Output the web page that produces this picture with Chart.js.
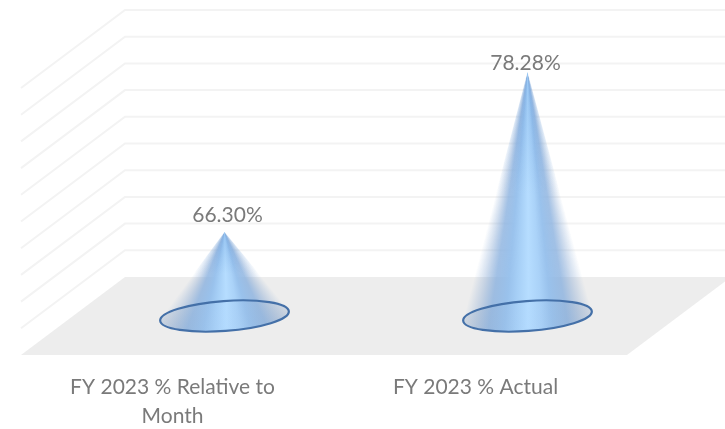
<!DOCTYPE html>
<html>
<head>
<meta charset="utf-8">
<script src="https://cdn.jsdelivr.net/npm/chart.js@4/dist/chart.umd.min.js"></script>
<style>
  html, body { margin: 0; padding: 0; background: #fff; }
  #wrap { width: 725px; height: 429px; }
  /* the source image is slightly soft */
  canvas { filter: blur(0.45px); }
</style>
</head>
<body>
<div id="wrap"><canvas id="coneChart"></canvas></div>
<script>
const categories = [["FY 2023 % Relative to", "Month"], "FY 2023 % Actual"];
const values = [66.30, 78.28];
const axisMin = 60;
const axisMax = 80;
const axisStep = 2;

// depth of the fake 3D box, cones stand half way in
const depthX = 104;
const depthY = -78;
const labelNudge = [[3, -17], [-2, -9]];

const fontName = "Lato, 'Open Sans', sans-serif";

function ellipsePoint(cx, cy, a, b, tilt, t) {
  const px = a * Math.cos(t), py = b * Math.sin(t);
  return {
    x: cx + px * Math.cos(tilt) - py * Math.sin(tilt),
    y: cy + px * Math.sin(tilt) + py * Math.cos(tilt)
  };
}

function drawCone(ctx, tipX, tipY, cx, cy, a) {
  const b = 15;
  const tilt = -4.2 * Math.PI / 180;

  // find the two tangent points seen from the tip
  let tR = 0, tL = 0, minA = 99, maxA = -99;
  for (let i = 0; i < 720; i++) {
    const t = -Math.PI / 2 + i * Math.PI * 2 / 720;
    const p = ellipsePoint(cx, cy, a, b, tilt, t);
    const ang = Math.atan2(p.y - tipY, p.x - tipX);
    if (ang < minA) { minA = ang; tR = t; }
    if (ang > maxA) { maxA = ang; tL = t; }
  }
  if (tL < tR) tL += Math.PI * 2;

  const path = new Path2D();
  path.moveTo(tipX, tipY);
  for (let i = 0; i <= 80; i++) {
    const p = ellipsePoint(cx, cy, a, b, tilt, tR + (tL - tR) * i / 80);
    path.lineTo(p.x, p.y);
  }
  path.closePath();

  // shading runs round the tip so it converges like on a real cone
  const span = (maxA - minA) / (Math.PI * 2);
  const g = ctx.createConicGradient(minA, tipX, tipY);
  const stops = [
    [0, "rgba(130,165,210,0)"],
    [0.1, "rgba(130,165,210,0.36)"],
    [0.2, "rgba(135,175,222,0.78)"],
    [0.32, "rgba(150,192,236,0.96)"],
    [0.4, "rgba(170,210,248,1)"],
    [0.5, "rgba(182,221,255,1)"],
    [0.6, "rgba(166,207,246,1)"],
    [0.68, "rgba(150,192,236,0.96)"],
    [0.8, "rgba(135,175,222,0.78)"],
    [0.9, "rgba(130,165,210,0.36)"],
    [1, "rgba(130,165,210,0)"]
  ];
  stops.forEach(s => g.addColorStop(s[0] * span, s[1]));
  g.addColorStop(Math.min(span + 0.001, 1), "rgba(130,165,210,0)");
  g.addColorStop(1, "rgba(130,165,210,0)");
  ctx.fillStyle = g;
  ctx.fill(path);

  // tip is a little darker
  const v = ctx.createLinearGradient(0, tipY, 0, tipY + (cy - tipY) * 0.5);
  v.addColorStop(0, "rgba(80,140,210,0.28)");
  v.addColorStop(1, "rgba(80,140,210,0)");
  ctx.fillStyle = v;
  ctx.fill(path);

  // base
  const base = new Path2D();
  base.ellipse(cx, cy, a, b, tilt, 0, Math.PI * 2);
  const h = ctx.createLinearGradient(cx - a, 0, cx + a, 0);
  h.addColorStop(0, "rgba(110,140,180,0.22)");
  h.addColorStop(0.5, "rgba(176,216,255,0.3)");
  h.addColorStop(1, "rgba(110,140,180,0.22)");
  ctx.fillStyle = h;
  ctx.fill(base);
  ctx.strokeStyle = "#4470a8";
  ctx.lineWidth = 2.2;
  ctx.stroke(base);
}

const box3d = {
  id: "box3d",
  beforeDatasetsDraw(chart) {
    const { ctx, chartArea, scales } = chart;
    const y = scales.y;
    const floorY = y.getPixelForValue(axisMin);
    ctx.save();
    ctx.fillStyle = "#ededed";
    ctx.beginPath();
    ctx.moveTo(chartArea.left, floorY);
    ctx.lineTo(chartArea.left + depthX, floorY + depthY);
    ctx.lineTo(chartArea.right + depthX, floorY + depthY);
    ctx.lineTo(chartArea.right, floorY);
    ctx.closePath();
    ctx.fill();

    ctx.strokeStyle = "#f3f3f3";
    ctx.lineWidth = 2;
    y.ticks.forEach(tick => {
      if (tick.value === axisMin) return;
      const py = y.getPixelForValue(tick.value);
      ctx.beginPath();
      ctx.moveTo(chartArea.left, py);
      ctx.lineTo(chartArea.left + depthX, py + depthY);
      ctx.lineTo(chartArea.right + depthX, py + depthY);
      ctx.stroke();
    });
    ctx.restore();
  },
  // bars are swapped for cones
  beforeDatasetDraw(chart, args) {
    const { ctx, scales } = chart;
    const meta = chart.getDatasetMeta(args.index);
    const basePx = scales.y.getPixelForValue(axisMin);
    ctx.save();
    meta.data.forEach(bar => {
      const ox = depthX / 2, oy = depthY / 2;
      drawCone(ctx, bar.x + ox, bar.y + oy, bar.x + ox, basePx + oy, 64.5);
    });
    ctx.fillStyle = "#7a7a7a";
    ctx.font = "21px " + fontName;
    ctx.textAlign = "center";
    ctx.textBaseline = "middle";
    meta.data.forEach((bar, i) => {
      ctx.fillText(values[i].toFixed(2) + "%", bar.x + depthX / 2 + labelNudge[i][0], bar.y + depthY / 2 + labelNudge[i][1]);
    });
    ctx.restore();
    return false;
  }
};

new Chart(document.getElementById("coneChart"), {
  type: "bar",
  data: {
    labels: categories,
    datasets: [{
      label: "FY 2023",
      data: values,
      backgroundColor: "#a5cff8"
    }]
  },
  plugins: [box3d],
  options: {
    responsive: true,
    maintainAspectRatio: false,
    animation: false,
    layout: { padding: { left: 21, right: 98, top: 88, bottom: 0 } },
    plugins: { legend: { display: false }, tooltip: { enabled: false } },
    scales: {
      x: {
        grid: { display: false },
        border: { display: false },
        afterFit(scale) { scale.height = 74; },
        ticks: {
          color: "#7a7a7a",
          padding: 10,
          maxRotation: 0,
          autoSkip: false,
          font: { family: fontName, size: 21, lineHeight: 1.38 }
        }
      },
      y: {
        display: false,
        min: axisMin,
        max: axisMax,
        ticks: { stepSize: axisStep }
      }
    }
  }
});
</script>
</body>
</html>
